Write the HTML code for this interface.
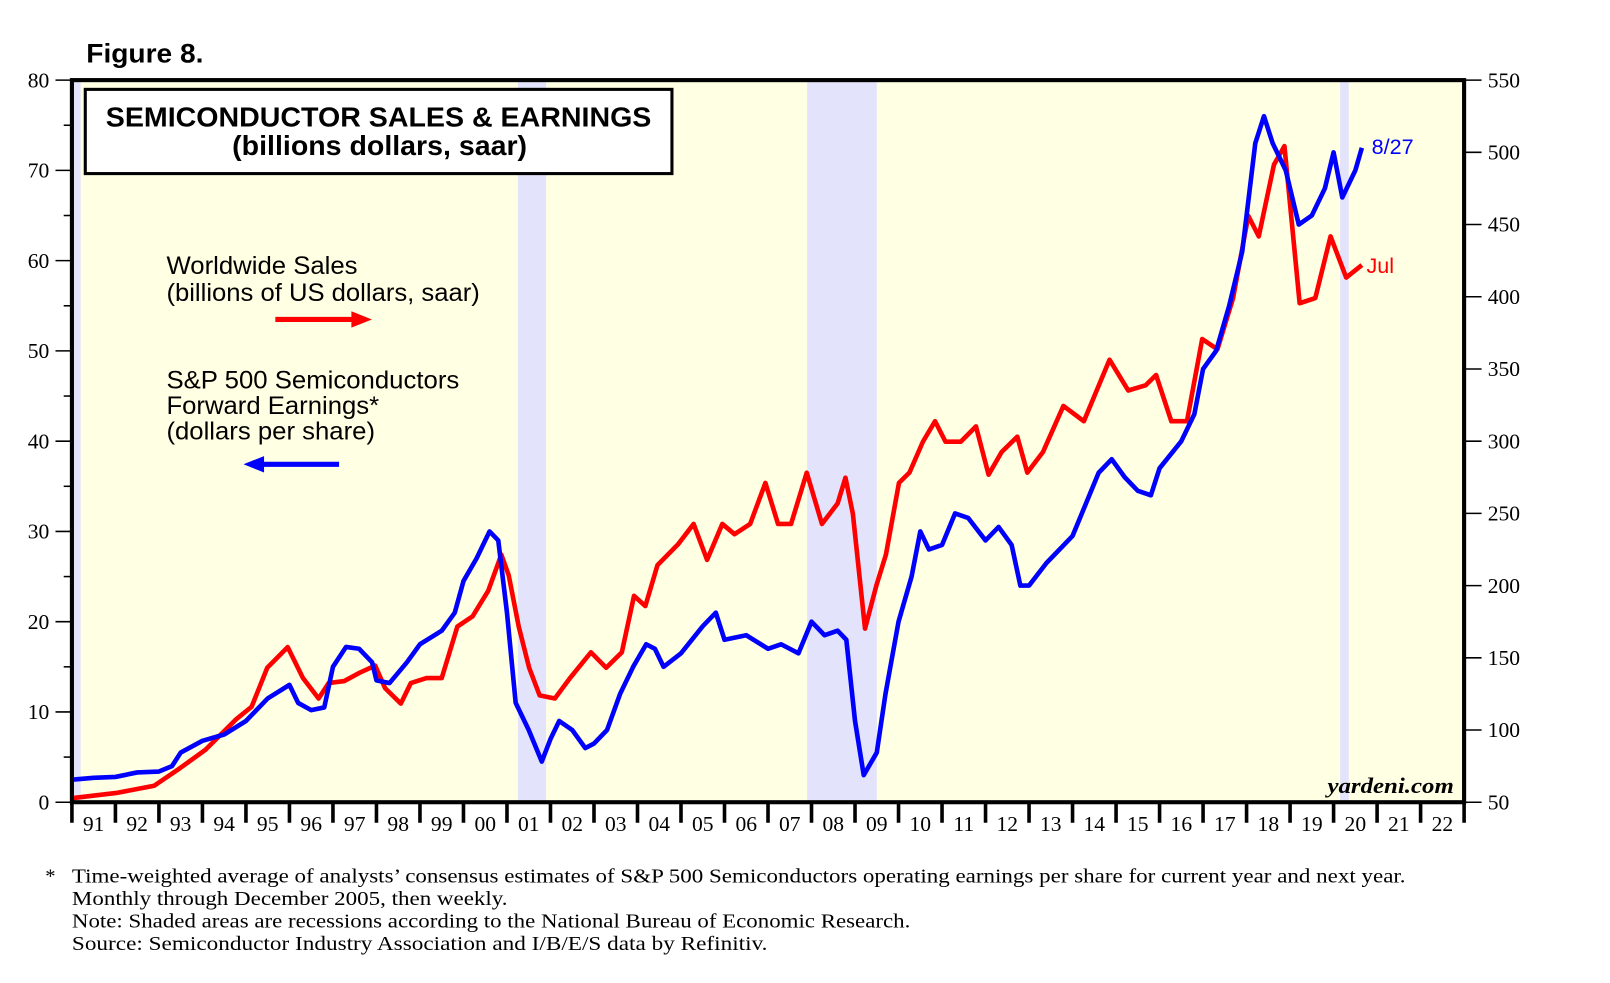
<!DOCTYPE html>
<html><head><meta charset="utf-8"><style>
html,body{margin:0;padding:0;background:#fff;}
svg{display:block;}
</style></head><body>
<svg id="chart" width="1610" height="983" viewBox="0 0 1567 957" preserveAspectRatio="none" xmlns="http://www.w3.org/2000/svg">
<text x="84" y="61" font-family="Liberation Sans, sans-serif" font-weight="bold" font-size="26" textLength="114" lengthAdjust="spacingAndGlyphs">Figure 8.</text>
<rect x="70" y="78" width="1355" height="703" fill="#ffffe3"/>
<g id="recess"></g>
<g id="marks"></g>
<rect x="70" y="78" width="1355" height="703" fill="none" stroke="#000" stroke-width="4"/>
<g id="axes"></g>
<g>
<rect x="83" y="87" width="571" height="82" fill="#fff" stroke="#000" stroke-width="3"/>
<text x="103" y="123" font-family="Liberation Sans, sans-serif" font-weight="bold" font-size="27" textLength="531" lengthAdjust="spacingAndGlyphs">SEMICONDUCTOR SALES &amp; EARNINGS</text>
<text x="226" y="151" font-family="Liberation Sans, sans-serif" font-weight="bold" font-size="27" textLength="287" lengthAdjust="spacingAndGlyphs">(billions dollars, saar)</text>
</g>
<g font-family="Liberation Sans, sans-serif" font-size="24">
<text x="162" y="267" textLength="186" lengthAdjust="spacingAndGlyphs">Worldwide Sales</text>
<text x="162" y="293" textLength="305" lengthAdjust="spacingAndGlyphs">(billions of US dollars, saar)</text>
<line x1="268" y1="311" x2="345" y2="311" stroke="#f00" stroke-width="5"/>
<polygon points="362,311 342,303 342,319" fill="#f00"/>
</g>
<g font-family="Liberation Sans, sans-serif" font-size="24">
<text x="162" y="378" textLength="285" lengthAdjust="spacingAndGlyphs">S&amp;P 500 Semiconductors</text>
<text x="162" y="403" textLength="207" lengthAdjust="spacingAndGlyphs">Forward Earnings*</text>
<text x="162" y="428" textLength="203" lengthAdjust="spacingAndGlyphs">(dollars per share)</text>
<line x1="255" y1="452" x2="330" y2="452" stroke="#00f" stroke-width="5"/>
<polygon points="237,452 257,444 257,460" fill="#00f"/>
</g>
<text x="1335" y="150" fill="#00f" font-family="Liberation Sans, sans-serif" font-size="21">8/27</text>
<text x="1330" y="266" fill="#f00" font-family="Liberation Sans, sans-serif" font-size="21">Jul</text>
<text x="1292" y="772" font-family="Liberation Serif, serif" font-style="italic" font-weight="bold" font-size="22" textLength="123" lengthAdjust="spacingAndGlyphs">yardeni.com</text>
<g font-family="Liberation Serif, serif" font-size="20">
<text x="44" y="859">*</text>
<text x="70" y="859" textLength="1298" lengthAdjust="spacingAndGlyphs">Time-weighted average of analysts’ consensus estimates of S&amp;P 500 Semiconductors operating earnings per share for current year and next year.</text>
<text x="70" y="881" textLength="424" lengthAdjust="spacingAndGlyphs">Monthly through December 2005, then weekly.</text>
<text x="70" y="903" textLength="816" lengthAdjust="spacingAndGlyphs">Note: Shaded areas are recessions according to the National Bureau of Economic Research.</text>
<text x="70" y="925" textLength="677" lengthAdjust="spacingAndGlyphs">Source:  Semiconductor Industry Association and I/B/E/S data by Refinitiv.</text>
</g>
</svg>
<script>
const earnYears=[1991,1991.5,1992,1992.5,1993,1993.3,1993.5,1994,1994.5,1995,1995.5,1996,1996.2,1996.5,1996.8,1997,1997.3,1997.6,1997.9,1998,1998.3,1998.7,1999,1999.5,1999.8,2000,2000.3,2000.6,2000.8,2001,2001.2,2001.5,2001.8,2002,2002.2,2002.5,2002.8,2003,2003.3,2003.6,2003.9,2004.2,2004.4,2004.6,2005,2005.5,2005.8,2006,2006.5,2007,2007.3,2007.7,2008,2008.3,2008.6,2008.8,2009,2009.2,2009.5,2009.7,2010,2010.3,2010.5,2010.7,2011,2011.3,2011.6,2012,2012.3,2012.6,2012.8,2013,2013.4,2013.7,2014,2014.3,2014.6,2014.9,2015.2,2015.5,2015.8,2016,2016.5,2016.8,2017,2017.3,2017.6,2017.9,2018.2,2018.4,2018.6,2018.9,2019.2,2019.5,2019.8,2020,2020.2,2020.5,2020.65];
const earnValues=[2.5,2.7,2.8,3.3,3.4,4.0,5.5,6.8,7.5,9.0,11.5,13,11,10.2,10.5,15,17.2,17.0,15.5,13.5,13.2,15.5,17.5,19,21,24.5,27,30,29,21,11,8,4.5,7,9,8,6,6.5,8,12,15,17.5,17,15,16.5,19.5,21,18,18.5,17,17.5,16.5,20,18.5,19,18,9,3,5.5,12,20,25,30,28,28.5,32,31.5,29,30.5,28.5,24,24,26.5,28,29.5,33,36.5,38,36,34.5,34,37,40,43,48,50,55,61,73,76,73,70,64,65,68,72,67,70,72.5];
const salesYears=[1991,1992.02,1992.89,1993.48,1994.07,1994.78,1995.13,1995.49,1995.96,1996.31,1996.67,1996.9,1997.26,1997.61,1997.97,1998.2,1998.56,1998.79,1999.15,1999.5,1999.86,2000.21,2000.57,2000.87,2001.04,2001.27,2001.51,2001.75,2002.1,2002.45,2002.93,2003.28,2003.64,2003.92,2004.18,2004.46,2004.93,2005.29,2005.6,2005.95,2006.23,2006.59,2006.94,2007.23,2007.53,2007.89,2008.24,2008.6,2008.78,2008.95,2009.23,2009.49,2009.71,2010.01,2010.25,2010.56,2010.84,2011.08,2011.43,2011.78,2012.07,2012.37,2012.73,2012.96,2013.32,2013.79,2014.26,2014.85,2015.28,2015.68,2015.92,2016.27,2016.63,2016.98,2017.33,2017.69,2018.04,2018.28,2018.63,2018.87,2019.22,2019.58,2019.93,2020.29,2020.65];
const salesValues=[52.8,56.4,61.4,73.5,86.3,107.6,116.1,143.1,157.4,136,121.8,132.5,133.9,139.6,144.6,128.9,118.3,132.5,136,136,171.6,178.7,196.5,221.4,207.1,171.6,143.1,124,121.8,136,153.8,143.1,153.8,192.9,185.8,214.2,228.5,242.7,217.8,242.7,235.6,242.7,271.1,242.7,242.7,278.2,242.7,256.9,274.7,249.8,170.2,200,221.4,271.1,278.2,299.6,313.8,299.6,299.6,310.2,276.8,292.5,303.1,278.2,292.5,324.4,313.8,356.4,335.1,338.7,345.8,313.8,313.8,370.7,363.6,399.1,456,441.8,491.5,504.3,395.5,399.1,441.8,413.3,421.9];
const recessionStarts=[1990.6,2001.25,2007.9,2020.15];
const recessionEnds=[1991.2,2001.9,2009.5,2020.35];
const yearLabels=['91','92','93','94','95','96','97','98','99','00','01','02','03','04','05','06','07','08','09','10','11','12','13','14','15','16','17','18','19','20','21','22'];
const leftTicks=[0,10,20,30,40,50,60,70,80];
const rightTicks=[50,100,150,200,250,300,350,400,450,500,550];

const NS='http://www.w3.org/2000/svg';
const X0=70,X1=1425,Y0=781,Y1=78;
const xS=t=>X0+(t-1991)*(X1-X0)/32;
const yL=v=>Y0-(v/80)*(Y0-Y1);
const yR=v=>Y0-((v-50)/500)*(Y0-Y1);
function mk(tag,attrs,parent){const e=document.createElementNS(NS,tag);for(const k in attrs)e.setAttribute(k,attrs[k]);parent.appendChild(e);return e;}
const rec=document.getElementById('recess'),marks=document.getElementById('marks'),axes=document.getElementById('axes');
recessionStarts.forEach((s,i)=>{
  const a=Math.max(X0,xS(s)),b=xS(recessionEnds[i]);
  const r=mk('rect',{x:a,y:Y1,width:b-a,height:Y0-Y1,fill:'#e3e3fb'},rec);
  
  
});
const sp=mk('polyline',{points:salesYears.map((t,i)=>xS(t)+','+yR(salesValues[i])).join(' '),fill:'none',stroke:'#f00','stroke-width':4.5,'stroke-linejoin':'round'},marks);


const ep=mk('polyline',{points:earnYears.map((t,i)=>xS(t)+','+yL(earnValues[i])).join(' '),fill:'none',stroke:'#00f','stroke-width':4.5,'stroke-linejoin':'round'},marks);


leftTicks.forEach(v=>{
  const y=yL(v);
  mk('line',{x1:54,y1:y,x2:X0,y2:y,stroke:'#000','stroke-width':1.5},axes);
  const t=mk('text',{x:48,y:y+7,'text-anchor':'end','font-family':'Liberation Serif, serif','font-size':21},axes);
  t.textContent=v;
  
  
  if(v<80)mk('line',{x1:62,y1:yL(v+5),x2:X0,y2:yL(v+5),stroke:'#000','stroke-width':1.5},axes);
});
rightTicks.forEach(v=>{
  const y=yR(v);
  mk('line',{x1:X1,y1:y,x2:1442,y2:y,stroke:'#000','stroke-width':1.5},axes);
  const t=mk('text',{x:1448,y:y+7,'font-family':'Liberation Serif, serif','font-size':21},axes);
  t.textContent=v;
  
  
});
yearLabels.forEach((l,i)=>{
  const x=xS(1991+i);
  mk('line',{x1:x,y1:Y0,x2:x,y2:801,stroke:'#000','stroke-width':3.5},axes);
  const t=mk('text',{x:xS(1991.5+i),y:809,'text-anchor':'middle','font-family':'Liberation Serif, serif','font-size':21},axes);
  t.textContent=l;
  
  
});
mk('line',{x1:X1,y1:Y0,x2:X1,y2:801,stroke:'#000','stroke-width':3.5},axes);
</script>
</body></html>
